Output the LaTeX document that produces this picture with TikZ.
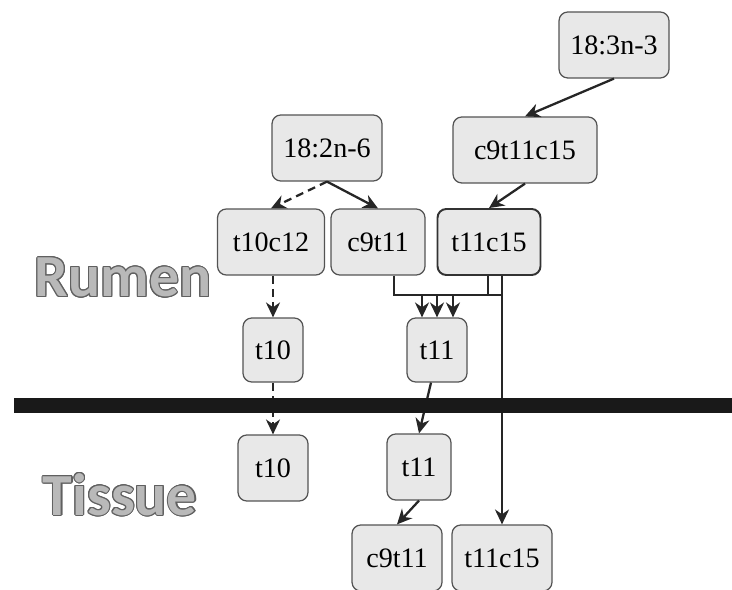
\documentclass[tikz,border=0pt]{standalone}
\usepackage{fontspec}
\setmainfont{Liberation Serif}
\newfontfamily\lblfont{Carlito}
\usepackage{contour}
\contourlength{.6pt}
\usetikzlibrary{arrows.meta}

\begin{document}
\begin{tikzpicture}[x=.02cm, y=-.02cm, >={Stealth[length=8.5pt,width=8pt]},
  box/.style={draw=gray!65!black, fill=gray!18, rounded corners=5pt, line width=.7pt,
    minimum height=1.32cm, inner sep=2pt, font=\fontsize{16}{19}\selectfont},
  arr/.style={->, line width=1.3pt, black!85},
  dsh/.style={dash pattern=on 4.5pt off 3pt},
  zone/.style={font=\lblfont\bfseries\fontsize{34}{40}\selectfont, text=gray!55}]
\useasboundingbox (0,0) rectangle (732,590);
\node[box, minimum width=2.2cm] (n183) at (614,45) {18:3n-3};
\node[box, minimum width=2.88cm] (c9t11c15) at (525,150) {c9t11c15};
\node[box, minimum width=2.2cm] (n182) at (327,148) {18:2n-6};
\node[box, minimum width=2.14cm] (t10c12) at (271,242) {t10c12};
\node[box, minimum width=1.88cm] (c9t11) at (378,242) {c9t11};
\node[box, minimum width=2.06cm, draw=black!80, line width=1.1pt] (t11c15) at (489,242) {t11c15};
\node[box, minimum width=1.2cm, minimum height=1.28cm] (t10) at (273,350) {t10};
\node[box, minimum width=1.2cm, minimum height=1.28cm] (t11) at (437,350) {t11};
\node[box, minimum width=1.4cm] (t10T) at (273,468) {t10};
\node[box, minimum width=1.28cm] (t11T) at (419,467) {t11};
\node[box, minimum width=1.8cm] (c9t11T) at (397,558) {c9t11};
\node[box, minimum width=2cm] (t11c15T) at (502,558) {t11c15};
\node[zone] (rumen) at (123,278) {\contour{gray!75!black}{Rumen}};
\node[zone] (tissue) at (120,495) {\contour{gray!75!black}{Tissue}};

\draw[arr] (n183.south) -- (c9t11c15.north);
\draw[arr] (c9t11c15.south) -- (t11c15.north);
\draw[arr, dsh] (n182.south) -- (t10c12.north);
\draw[arr] (n182.south) -- (c9t11.north);
\draw[arr, dsh] (t10c12.south -| t10.north) -- (t10.north);
\draw[arr, dsh] (t10.south) -- (t10T.north);
\draw[arr] ([xshift=-.12cm]t11.south) -- (t11T.north);
\draw[arr] (t11T.south) -- (c9t11T.north);
\draw[arr] (t11c15.south -| t11c15T.north) -- (t11c15T.north);
% c9t11 and t11c15 join into t11
\coordinate (jl) at (394,295);
\coordinate (jm) at (488,295);
\coordinate (jr) at (502,295);
\draw[line width=1.3pt, black!85] (c9t11.south -| jl) -- (jl) -- (jr);
\draw[line width=1.3pt, black!85] (t11c15.south -| jm) -- (jm);
\foreach \dx in {-.3,0,.32}
  \draw[arr] ([xshift=\dx cm]t11.north |- jl) -- ([xshift=\dx cm]t11.north);
% wall
\fill[black!90] (14,398) rectangle (732,413);
\end{tikzpicture}
\end{document}
